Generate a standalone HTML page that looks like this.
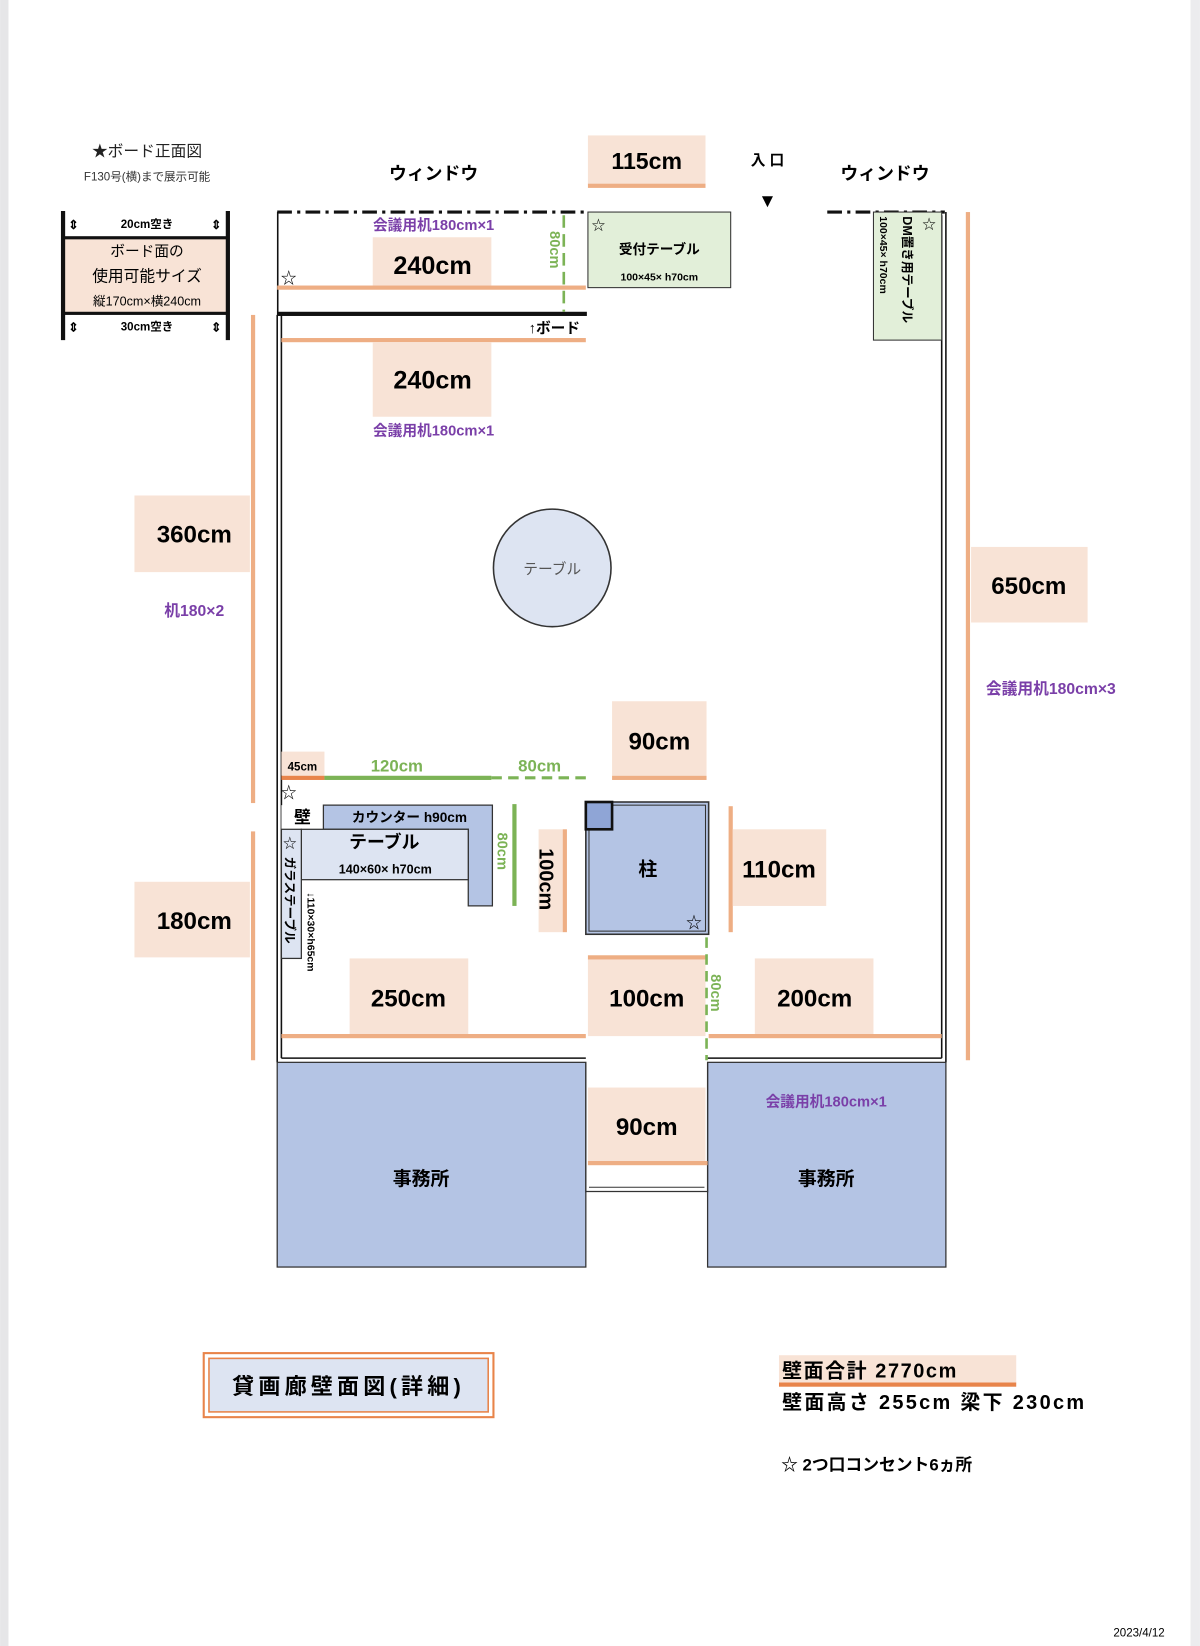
<!DOCTYPE html>
<html><head><meta charset="utf-8"><style>
html,body{margin:0;padding:0;background:#fff}
svg{display:block}
text{font-family:"Liberation Sans","Noto Sans CJK JP",sans-serif}
</style></head><body>
<svg width="1200" height="1646" viewBox="0 0 1143 1568" xmlns="http://www.w3.org/2000/svg">
<rect x="0" y="0" width="1143" height="1568" fill="#fff"/>
<rect x="0" y="0" width="8" height="1568" fill="#e6e6e8"/>
<rect x="1134" y="0" width="9" height="1568" fill="#ececee"/>

<text x="140" y="149" font-size="15" text-anchor="middle" fill="#222">★ボード正面図</text>
<text x="140" y="172" font-size="11" text-anchor="middle" fill="#333">F130号(横)まで展示可能</text>
<rect x="60" y="226" width="156" height="72" fill="#f8e3d6"/>
<rect x="58" y="201" width="4" height="123" fill="#111"/>
<rect x="215" y="201" width="4" height="123" fill="#111"/>
<rect x="60" y="225" width="156" height="3" fill="#111"/>
<rect x="60" y="297" width="156" height="3" fill="#111"/>
<text x="70" y="218" font-size="12" text-anchor="middle" font-weight="bold">⇕</text>
<text x="206" y="218" font-size="12" text-anchor="middle" font-weight="bold">⇕</text>
<text x="140" y="217" font-size="11" text-anchor="middle" font-weight="bold">20cm空き</text>
<text x="70" y="316" font-size="12" text-anchor="middle" font-weight="bold">⇕</text>
<text x="206" y="316" font-size="12" text-anchor="middle" font-weight="bold">⇕</text>
<text x="140" y="315" font-size="11" text-anchor="middle" font-weight="bold">30cm空き</text>
<text x="140" y="244" font-size="14" text-anchor="middle">ボード面の</text>
<text x="140" y="268" font-size="15" text-anchor="middle">使用可能サイズ</text>
<text x="140" y="291" font-size="12" text-anchor="middle">縦170cm×横240cm</text>

<text x="413" y="171" font-size="17" font-weight="bold" text-anchor="middle">ウィンドウ</text>
<text x="843" y="171" font-size="17" font-weight="bold" text-anchor="middle">ウィンドウ</text>
<text x="731" y="157" font-size="14" font-weight="bold" text-anchor="middle">入 口</text>
<text x="731" y="197" font-size="18" text-anchor="middle">▼</text>
<rect x="560" y="129" width="112" height="47" fill="#f8e3d6"/>
<rect x="560" y="175" width="112" height="4" fill="#eeae84"/>
<text x="616" y="161" font-size="22" font-weight="bold" text-anchor="middle">115cm</text>

<line x1="264" y1="202" x2="558" y2="202" stroke="#111" stroke-width="3" stroke-dasharray="14,5,3,5"/>
<line x1="788" y1="202" x2="900" y2="202" stroke="#111" stroke-width="3" stroke-dasharray="14,5,3,5"/>
<line x1="264.5" y1="202" x2="264.5" y2="300" stroke="#111" stroke-width="1.5"/>
<line x1="264" y1="300" x2="264" y2="1012" stroke="#111" stroke-width="1.5"/>
<line x1="268" y1="300" x2="268" y2="1008" stroke="#111" stroke-width="1.5"/>
<line x1="897" y1="205" x2="897" y2="1008" stroke="#111" stroke-width="1.5"/>
<line x1="901" y1="202" x2="901" y2="1012" stroke="#111" stroke-width="1.5"/>
<line x1="268" y1="1008" x2="558" y2="1008" stroke="#111" stroke-width="1.5"/>
<line x1="674" y1="1008" x2="897" y2="1008" stroke="#111" stroke-width="1.5"/>

<rect x="355" y="226" width="113" height="48" fill="#f8e3d6"/>
<rect x="264" y="272" width="294" height="4" fill="#eeae84"/>
<rect x="264" y="297" width="295" height="4" fill="#111"/>
<rect x="268" y="322" width="290" height="4" fill="#eeae84"/>
<line x1="537" y1="205" x2="537" y2="297" stroke="#7cb356" stroke-width="2.5" stroke-dasharray="12,6"/>
<text x="524" y="238" font-size="14" font-weight="bold" fill="#7cb356" text-anchor="middle" transform="rotate(90 524 238)">80cm</text>
<text x="413" y="219" font-size="14" font-weight="bold" fill="#7a3fa8" text-anchor="middle">会議用机180cm×1</text>
<text x="412" y="261" font-size="24" font-weight="bold" text-anchor="middle">240cm</text>
<text x="275" y="270" font-size="15" text-anchor="middle">☆</text>
<text x="528" y="317" font-size="14" font-weight="bold" text-anchor="middle">↑ボード</text>
<rect x="355" y="326" width="113" height="71" fill="#f8e3d6"/>
<text x="412" y="370" font-size="24" font-weight="bold" text-anchor="middle">240cm</text>
<text x="413" y="415" font-size="14" font-weight="bold" fill="#7a3fa8" text-anchor="middle">会議用机180cm×1</text>

<rect x="560" y="202" width="136" height="72" fill="#e2efd9" stroke="#333" stroke-width="1"/>
<text x="570" y="219" font-size="13" text-anchor="middle">☆</text>
<text x="628" y="242" font-size="13" font-weight="bold" text-anchor="middle">受付テーブル</text>
<text x="628" y="267" font-size="10" font-weight="bold" text-anchor="middle">100×45× h70cm</text>
<rect x="832" y="202" width="65" height="122" fill="#e2efd9" stroke="#333" stroke-width="1"/>
<text x="885" y="218" font-size="13" text-anchor="middle">☆</text>
<text x="860" y="206" font-size="12" font-weight="bold" transform="rotate(90 860 206)">DM置き用テーブル</text>
<text x="838" y="206" font-size="10" font-weight="bold" transform="rotate(90 838 206)">100×45× h70cm</text>

<rect x="239" y="300" width="4" height="465" fill="#eeae84"/>
<rect x="239" y="792" width="4" height="218" fill="#eeae84"/>
<rect x="128" y="472" width="110" height="73" fill="#f8e3d6"/>
<text x="185" y="517" font-size="23" font-weight="bold" text-anchor="middle">360cm</text>
<text x="185" y="587" font-size="15" font-weight="bold" fill="#7a3fa8" text-anchor="middle">机180×2</text>
<rect x="128" y="840" width="110" height="72" fill="#f8e3d6"/>
<text x="185" y="885" font-size="23" font-weight="bold" text-anchor="middle">180cm</text>

<rect x="920" y="202" width="4" height="808" fill="#eeae84"/>
<rect x="925" y="521" width="111" height="72" fill="#f8e3d6"/>
<text x="980" y="566" font-size="23" font-weight="bold" text-anchor="middle">650cm</text>
<text x="1001" y="661" font-size="15" font-weight="bold" fill="#7a3fa8" text-anchor="middle">会議用机180cm×3</text>

<circle cx="526" cy="541" r="56" fill="#dde4f2" stroke="#333" stroke-width="1.5"/>
<text x="526" y="547" font-size="14" fill="#555" text-anchor="middle">テーブル</text>

<rect x="268" y="716" width="41" height="23" fill="#f8e3d6"/>
<rect x="268" y="739" width="41" height="4" fill="#e8844a"/>
<text x="288" y="734" font-size="11" font-weight="bold" text-anchor="middle">45cm</text>
<rect x="309" y="739" width="159" height="4" fill="#7cb356"/>
<line x1="468" y1="741" x2="560" y2="741" stroke="#7cb356" stroke-width="3" stroke-dasharray="10,6"/>
<text x="378" y="735" font-size="16" font-weight="bold" fill="#7cb356" text-anchor="middle">120cm</text>
<text x="514" y="735" font-size="16" font-weight="bold" fill="#7cb356" text-anchor="middle">80cm</text>
<rect x="583" y="668" width="90" height="71" fill="#f8e3d6"/>
<rect x="583" y="739" width="90" height="4" fill="#eeae84"/>
<text x="628" y="714" font-size="23" font-weight="bold" text-anchor="middle">90cm</text>
<text x="275" y="760" font-size="15" text-anchor="middle">☆</text>

<rect x="268" y="767" width="40" height="23" fill="#fff"/>
<text x="288" y="784" font-size="16" font-weight="bold" text-anchor="middle">壁</text>
<path d="M308 767 H469 V863 H446 V790 H308 Z" fill="#b4c4e4" stroke="#333" stroke-width="1.2"/>
<text x="390" y="783" font-size="13" font-weight="bold" text-anchor="middle">カウンター h90cm</text>
<rect x="287" y="790" width="159" height="48" fill="#dde4f2" stroke="#333" stroke-width="1.2"/>
<text x="366" y="808" font-size="17" font-weight="bold" text-anchor="middle">テーブル</text>
<text x="367" y="832" font-size="12" font-weight="bold" text-anchor="middle">140×60× h70cm</text>
<rect x="268" y="790" width="19" height="123" fill="#dde4f2" stroke="#333" stroke-width="1.2"/>
<text x="276" y="808" font-size="13" text-anchor="middle">☆</text>
<text x="272" y="816" font-size="12" font-weight="bold" transform="rotate(90 272 816)">ガラステーブル</text>
<text x="293" y="850" font-size="10" font-weight="bold" transform="rotate(90 293 850)">↓110×30×h65cm</text>

<rect x="488" y="766" width="4" height="97" fill="#7cb356"/>
<text x="474" y="793" font-size="14" font-weight="bold" fill="#7cb356" transform="rotate(90 474 793)">80cm</text>
<rect x="513" y="790" width="23" height="98" fill="#f8e3d6"/>
<rect x="536" y="790" width="4" height="98" fill="#eeae84"/>
<text x="514" y="808" font-size="19" font-weight="bold" transform="rotate(90 514 808)">100cm</text>

<rect x="558" y="764" width="117" height="126" fill="#b4c4e4" stroke="#333" stroke-width="1.5"/>
<rect x="561" y="767" width="111" height="120" fill="none" stroke="#333" stroke-width="1"/>
<rect x="558" y="764" width="25" height="26" fill="#8fa5d6" stroke="#111" stroke-width="2.5"/>
<text x="617" y="834" font-size="18" font-weight="bold" text-anchor="middle">柱</text>
<text x="661" y="884" font-size="15" text-anchor="middle">☆</text>

<rect x="694" y="768" width="4" height="120" fill="#eeae84"/>
<rect x="698" y="790" width="89" height="73" fill="#f8e3d6"/>
<text x="742" y="836" font-size="23" font-weight="bold" text-anchor="middle">110cm</text>

<rect x="333" y="913" width="113" height="74" fill="#f8e3d6"/>
<text x="389" y="959" font-size="23" font-weight="bold" text-anchor="middle">250cm</text>
<rect x="560" y="913" width="112" height="74" fill="#f8e3d6"/>
<rect x="560" y="910" width="113" height="4" fill="#eeae84"/>
<text x="616" y="959" font-size="23" font-weight="bold" text-anchor="middle">100cm</text>
<rect x="719" y="913" width="113" height="74" fill="#f8e3d6"/>
<text x="776" y="959" font-size="23" font-weight="bold" text-anchor="middle">200cm</text>
<rect x="268" y="985" width="290" height="4" fill="#eeae84"/>
<rect x="675" y="985" width="222" height="4" fill="#eeae84"/>
<line x1="673" y1="893" x2="673" y2="1010" stroke="#7cb356" stroke-width="2.5" stroke-dasharray="10,6"/>
<text x="677" y="928" font-size="14" font-weight="bold" fill="#7cb356" transform="rotate(90 677 928)">80cm</text>

<rect x="264" y="1012" width="294" height="195" fill="#b4c4e4" stroke="#333" stroke-width="1.2"/>
<rect x="674" y="1012" width="227" height="195" fill="#b4c4e4" stroke="#333" stroke-width="1.2"/>
<line x1="558" y1="1012" x2="558" y2="1136" stroke="#333" stroke-width="1.2"/>
<line x1="674" y1="1012" x2="674" y2="1136" stroke="#333" stroke-width="1.2"/>
<line x1="558" y1="1135" x2="674" y2="1135" stroke="#333" stroke-width="1.2"/>
<line x1="561" y1="1131" x2="671" y2="1131" stroke="#333" stroke-width="1"/>
<rect x="560" y="1036" width="112" height="71" fill="#f8e3d6"/>
<rect x="560" y="1106" width="114" height="4" fill="#eeae84"/>
<text x="616" y="1081" font-size="23" font-weight="bold" text-anchor="middle">90cm</text>
<text x="401" y="1129" font-size="18" font-weight="bold" text-anchor="middle">事務所</text>
<text x="787" y="1129" font-size="18" font-weight="bold" text-anchor="middle">事務所</text>
<text x="787" y="1054" font-size="14" font-weight="bold" fill="#7a3fa8" text-anchor="middle">会議用机180cm×1</text>

<rect x="194" y="1289" width="276" height="61" fill="#fff" stroke="#e8844a" stroke-width="2"/>
<rect x="199" y="1294" width="266" height="51" fill="#dde4f2" stroke="#e8844a" stroke-width="1.5"/>
<text x="332" y="1328" font-size="21" font-weight="bold" text-anchor="middle" letter-spacing="4">貸画廊壁面図(詳細)</text>

<rect x="742" y="1291" width="226" height="27" fill="#f8e3d6"/>
<rect x="742" y="1317" width="226" height="4" fill="#e8844a"/>
<text x="745" y="1312" font-size="19" font-weight="bold" letter-spacing="1.5">壁面合計 2770cm</text>
<text x="745" y="1342" font-size="19" font-weight="bold" letter-spacing="2.2">壁面高さ 255cm 梁下 230cm</text>
<text x="744" y="1401" font-size="16" font-weight="bold">☆ 2つ口コンセント6ヵ所</text>
<text x="1085" y="1559" font-size="11" text-anchor="middle">2023/4/12</text>
</svg>
</body></html>
